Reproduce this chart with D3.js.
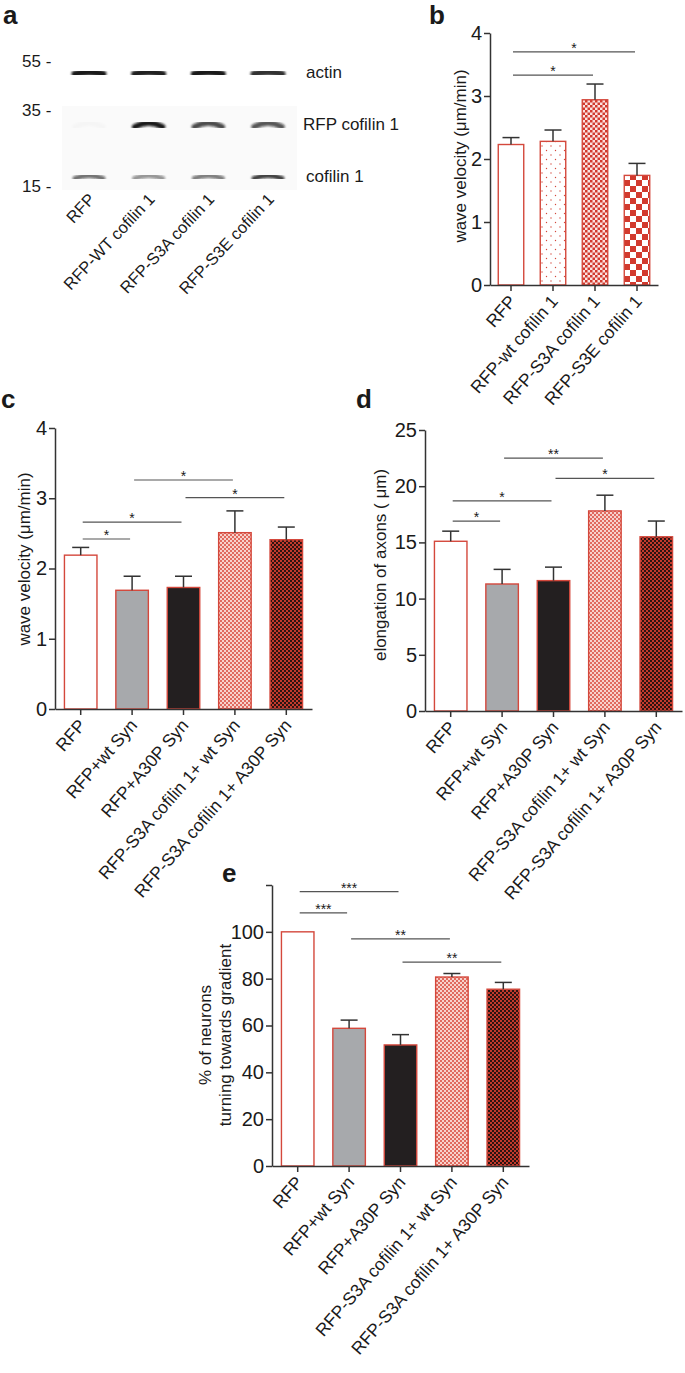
<!DOCTYPE html>
<html>
<head>
<meta charset="utf-8">
<script src="https://cdn.jsdelivr.net/npm/d3@7"></script>
<style>
  body { margin: 0; background: #fff; }
  text { font-family: "Liberation Sans", Arial, sans-serif; fill: #1a1a1a; }
</style>
</head>
<body>
<svg id="fig" width="685" height="1373"></svg>
<script>
// ---- panel a: western blot ----
const blotLanes = ['RFP', 'RFP-WT cofilin 1', 'RFP-S3A cofilin 1', 'RFP-S3E cofilin 1'];
const blotRows = ['actin', 'RFP cofilin 1', 'cofilin 1'];
const blotMarkers = ['55 -', '35 -', '15 -'];
const actinBand = [0.95, 0.92, 0.95, 0.85];
const rfpCofilinBand = [0.02, 0.95, 0.75, 0.7];
const cofilinBand = [0.6, 0.45, 0.55, 0.8];

// ---- panel b ----
const bCats = ['RFP', 'RFP-wt cofilin 1', 'RFP-S3A cofilin 1', 'RFP-S3E cofilin 1'];
const bMean = [2.23, 2.28, 2.94, 1.74];
const bErr = [2.34, 2.46, 3.19, 1.93];
const bTicks = [0, 1, 2, 3, 4];
const bSig = [[0, 3, 3.70, '*'], [0, 2, 3.33, '*']];

// ---- panels c, d, e share categories ----
const synCats = ['RFP', 'RFP+wt Syn', 'RFP+A30P Syn', 'RFP-S3A cofilin 1+ wt Syn', 'RFP-S3A cofilin 1+ A30P Syn'];

const cMean = [2.19, 1.69, 1.73, 2.51, 2.41];
const cErr = [2.30, 1.89, 1.89, 2.82, 2.59];
const cTicks = [0, 1, 2, 3, 4];
const cSig = [[0, 1, 2.42, '*'], [0, 2, 2.66, '*'], [1, 3, 3.26, '*'], [2, 4, 3.01, '*']];

const dMean = [15.1, 11.3, 11.6, 17.8, 15.5];
const dErr = [16.0, 12.6, 12.8, 19.2, 16.9];
const dTicks = [0, 5, 10, 15, 20, 25];
const dSig = [[0, 1, 16.9, '*'], [0, 2, 18.7, '*'], [1, 3, 22.5, '**'], [2, 4, 20.7, '*']];

const eMean = [100, 58.8, 51.7, 80.7, 75.5];
const eErr = [null, 62.3, 56.1, 82.2, 78.4];
const eTicks = [0, 20, 40, 60, 80, 100, 120];
const eSig = [[0, 2, 117.2, '***'], [0, 1, 108.1, '***'], [1, 3, 97.0, '**'], [2, 4, 87.1, '**']];

const RED = '#d4483c';
const svg = d3.select('#fig');
const defs = svg.append('defs');

// Fill patterns
function checker(id, size, c1, c2) {
    const p = defs.append('pattern').attr('id', id).attr('patternUnits', 'userSpaceOnUse')
        .attr('width', size * 2).attr('height', size * 2);
    p.append('rect').attr('width', size * 2).attr('height', size * 2).attr('fill', c2);
    p.append('rect').attr('width', size).attr('height', size).attr('fill', c1);
    p.append('rect').attr('x', size).attr('y', size).attr('width', size).attr('height', size).attr('fill', c1);
}
checker('fineRed', 2.5, '#d23a2e', '#fbe3e0');
checker('coarseRed', 6, '#d23a2e', '#ffffff');
checker('lightCheck', 2, '#e06a5e', '#f7d2cc');
checker('darkCheck', 2, '#c23a2c', '#2b1412');

const dots = defs.append('pattern').attr('id', 'dots').attr('patternUnits', 'userSpaceOnUse')
    .attr('width', 9).attr('height', 9);
dots.append('rect').attr('width', 9).attr('height', 9).attr('fill', '#fff');
dots.selectAll('circle').data([[2, 2], [6.5, 6.5]]).join('circle')
    .attr('cx', d => d[0]).attr('cy', d => d[1]).attr('r', 0.7).attr('fill', RED);

defs.append('filter').attr('id', 'blur').append('feGaussianBlur').attr('stdDeviation', 0.8);

// ---- panel a ----
function drawBlot() {
    const g = svg.append('g');
    const lx = d3.scalePoint().domain(blotLanes).range([89, 268]);
    const ry = d3.scalePoint().domain(blotRows).range([73, 177]);
    const bands = [actinBand, rfpCofilinBand, cofilinBand];

    g.append('rect').attr('x', 62).attr('y', 106).attr('width', 235).attr('height', 84).attr('fill', '#fafafa');

    blotRows.forEach((row, r) => {
        const arch = [2, 4, 3][r], thick = [7, 5.5, 4.8][r];
        g.append('g').attr('filter', 'url(#blur)')
            .selectAll('path').data(bands[r]).join('path')
            .attr('d', (d, i) => {
                const cx = lx(blotLanes[i]), cy = ry(row), w = 14;
                return `M${cx - w},${cy + arch / 2} Q${cx},${cy - arch * 1.5} ${cx + w},${cy + arch / 2}`;
            })
            .attr('fill', 'none').attr('stroke', '#111').attr('stroke-width', thick)
            .attr('stroke-linecap', 'round').attr('stroke-opacity', d => d);
        g.append('text').attr('x', r === 1 ? 303 : 306).attr('y', ry(row) + 5)
            .attr('font-size', 17).text(row);
    });

    g.selectAll('text.mk').data(blotMarkers).join('text').attr('class', 'mk')
        .attr('x', 22).attr('y', (d, i) => [67, 116, 192][i])
        .attr('font-size', 17).text(d => d);

    g.selectAll('text.lane').data(blotLanes).join('text').attr('class', 'lane')
        .attr('transform', d => `translate(${lx(d) + 7},${200}) rotate(-47)`)
        .attr('text-anchor', 'end').attr('font-size', 16.5).text(d => d);
}

// ---- bar panels ----
function drawBars(cfg) {
    const g = svg.append('g');
    const x = d3.scaleBand().domain(cfg.cats).range([cfg.x0, cfg.x1])
        .paddingInner(cfg.pad).paddingOuter(cfg.pad / 2);
    const y = d3.scaleLinear().domain(cfg.domain).range([cfg.y0, cfg.y1]);
    const cx = i => x(cfg.cats[i]) + x.bandwidth() / 2;

    // bars
    g.selectAll('rect.bar').data(cfg.mean).join('rect').attr('class', 'bar')
        .attr('x', (d, i) => x(cfg.cats[i]) + 0.7)
        .attr('y', d => y(d))
        .attr('width', x.bandwidth() - 1.4)
        .attr('height', d => y(0) - y(d))
        .attr('fill', (d, i) => cfg.fills[i])
        .attr('stroke', RED).attr('stroke-width', 1.4);

    // upper error whiskers
    const errs = cfg.err.map((e, i) => ({ e, m: cfg.mean[i], i })).filter(d => d.e != null);
    g.selectAll('line.err').data(errs).join('line').attr('class', 'err')
        .attr('x1', d => cx(d.i)).attr('x2', d => cx(d.i))
        .attr('y1', d => y(d.m)).attr('y2', d => y(d.e))
        .attr('stroke', '#333').attr('stroke-width', 1.5);
    g.selectAll('line.cap').data(errs).join('line').attr('class', 'cap')
        .attr('x1', d => cx(d.i) - 8.5).attr('x2', d => cx(d.i) + 8.5)
        .attr('y1', d => y(d.e)).attr('y2', d => y(d.e))
        .attr('stroke', '#333').attr('stroke-width', 1.5);

    // y axis
    const yAxis = d3.axisLeft(y).tickValues(cfg.ticks).tickSize(6).tickSizeOuter(0).tickPadding(2)
        .tickFormat(d => d > cfg.maxLabel ? '' : d);
    const ya = g.append('g').attr('transform', `translate(${cfg.x0},0)`).call(yAxis);
    ya.selectAll('text').attr('font-size', 20).style('font-family', '"Liberation Sans", Arial, sans-serif').attr('fill', '#1a1a1a');

    // x axis
    const xAxis = d3.axisBottom(x).tickSize(6).tickSizeOuter(0).tickFormat('');
    const xa = g.append('g').attr('transform', `translate(0,${cfg.y0})`).call(xAxis);
    [ya, xa].forEach(a => {
        a.selectAll('path, line').attr('stroke', '#333').attr('stroke-width', 1.5);
    });

    // category labels
    g.selectAll('text.cat').data(cfg.cats).join('text').attr('class', 'cat')
        .attr('transform', d => `translate(${x(d) + x.bandwidth() / 2 + 6},${cfg.y0 + 17}) rotate(-49)`)
        .attr('text-anchor', 'end').attr('font-size', 17.5).text(d => d);

    // y axis title
    const yt = g.append('text').attr('transform', `translate(${cfg.titleX},${cfg.titleY}) rotate(-90)`)
        .attr('text-anchor', 'middle').attr('font-size', 17);
    cfg.title.forEach((t, k) => {
        yt.append('tspan').attr('x', 0).attr('dy', k === 0 ? 0 : '1.2em').text(t);
    });

    // significance bars
    g.selectAll('line.sig').data(cfg.sig).join('line').attr('class', 'sig')
        .attr('x1', d => cx(d[0]) + 2).attr('x2', d => cx(d[1]) - 2)
        .attr('y1', d => y(d[2])).attr('y2', d => y(d[2]))
        .attr('stroke', '#555').attr('stroke-width', 1.2);
    g.selectAll('text.sig').data(cfg.sig).join('text').attr('class', 'sig')
        .attr('x', d => (cx(d[0]) + cx(d[1])) / 2).attr('y', d => y(d[2]) + 1)
        .attr('text-anchor', 'middle').attr('font-size', 14).text(d => d[3]);

    // panel letter
    g.append('text').attr('x', cfg.letterX).attr('y', cfg.letterY)
        .attr('font-size', 26).attr('font-weight', 'bold').attr('fill', '#111').text(cfg.letter);
}

const synFills = ['#ffffff', '#a7a9ac', '#231f20', 'url(#lightCheck)', 'url(#darkCheck)'];

drawBlot();
svg.append('text').attr('x', 3).attr('y', 24).attr('font-size', 26).attr('font-weight', 'bold').attr('fill', '#111').text('a');

drawBars({ cats: bCats, mean: bMean, err: bErr, ticks: bTicks, sig: bSig, domain: [0, 4], maxLabel: 4,
    x0: 490, x1: 658, y0: 285, y1: 33, pad: 0.36,
    fills: ['#ffffff', 'url(#dots)', 'url(#fineRed)', 'url(#coarseRed)'],
    title: ['wave velocity (μm/min)'], titleX: 466, titleY: 156, letter: 'b', letterX: 429, letterY: 24 });

drawBars({ cats: synCats, mean: cMean, err: cErr, ticks: cTicks, sig: cSig, domain: [0, 4], maxLabel: 4,
    x0: 55, x1: 312, y0: 709, y1: 428, pad: 0.34, fills: synFills,
    title: ['wave velocity (μm/min)'], titleX: 30, titleY: 559, letter: 'c', letterX: 1, letterY: 408 });

drawBars({ cats: synCats, mean: dMean, err: dErr, ticks: dTicks, sig: dSig, domain: [0, 25], maxLabel: 25,
    x0: 425, x1: 682, y0: 711, y1: 430, pad: 0.34, fills: synFills,
    title: ['elongation of axons ( μm)'], titleX: 386, titleY: 565, letter: 'd', letterX: 356, letterY: 408 });

drawBars({ cats: synCats, mean: eMean, err: eErr, ticks: eTicks, sig: eSig, domain: [0, 120], maxLabel: 100,
    x0: 272, x1: 529, y0: 1166, y1: 885, pad: 0.34, fills: synFills,
    title: ['% of neurons', 'turning towards gradient'], titleX: 211, titleY: 1035, letter: 'e', letterX: 222, letterY: 882 });
</script>
</body>
</html>
